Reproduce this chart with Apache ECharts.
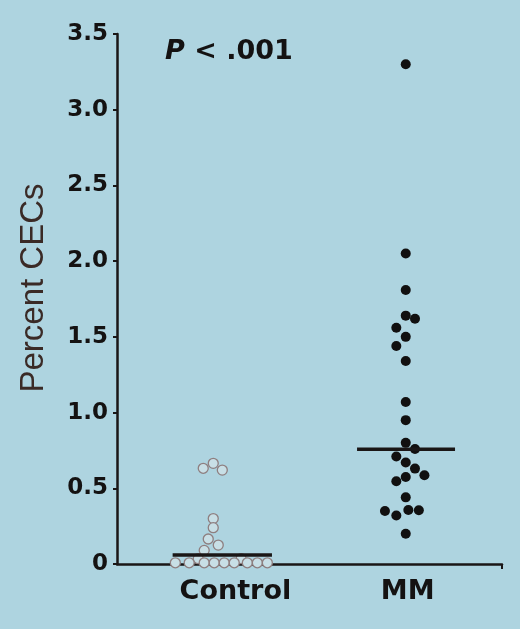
<!DOCTYPE html>
<html>
<head>
<meta charset="utf-8">
<script src="https://cdn.jsdelivr.net/npm/echarts@6/dist/echarts.min.js"></script>
<style>
html,body{margin:0;padding:0;background:#aed4e0;}
#chart{width:520px;height:629px;}
</style>
</head>
<body>
<div id="chart"></div>
<script>
// ---- data ----
const categories = ['Control', 'MM'];
const yTicks = [0, 0.5, 1.0, 1.5, 2.0, 2.5, 3.0, 3.5];
const controlValues = [0.665, 0.632, 0.62, 0.30, 0.24, 0.165, 0.125, 0.09, 0.035, 0.035,
  0.008, 0.008, 0.008, 0.008, 0.008, 0.008, 0.008, 0.008, 0.008];
const controlJitter = [0, -0.052, 0.047, 0, 0, -0.026, 0.026, -0.047, -0.078, 0.145,
  -0.197, -0.125, -0.047, 0.005, 0.057, 0.109, 0.177, 0.229, 0.281];
const mmValues = [3.30, 2.05, 1.81, 1.64, 1.62, 1.56, 1.50, 1.44, 1.34, 1.07, 0.95, 0.80,
  0.76, 0.71, 0.67, 0.63, 0.586, 0.575, 0.546, 0.44, 0.35, 0.32, 0.357, 0.355, 0.20];
const mmJitter = [0, 0, 0, 0, 0.048, -0.049, 0, -0.049, 0, 0, 0, 0,
  0.048, -0.049, 0, 0.048, 0.097, 0, -0.049, 0, -0.108, -0.049, 0.0135, 0.068, 0];
const medians = [0.06, 0.757];

// ---- chart ----
const centers = [0.5, 1.5];
const medianSpans = [[0.289, 0.805], [1.247, 1.756]];
const labelPos = [0.615, 1.51];
const FONT = 'DejaVu Sans';

const chart = echarts.init(document.getElementById('chart'));
chart.setOption({
  backgroundColor: '#aed4e0',
  animation: false,
  grid: { left: 117, right: 18, top: 34, bottom: 65 },
  xAxis: {
    type: 'value', min: 0, max: 2,
    axisLine: { show: true, lineStyle: { color: '#1a1616', width: 2.5 } },
    axisTick: { show: true, customValues: [2], length: 5, lineStyle: { color: '#1a1616', width: 2 } },
    splitLine: { show: false },
    axisLabel: {
      customValues: labelPos,
      margin: 14,
      formatter: function (v) {
        for (let i = 0; i < labelPos.length; i++) if (Math.abs(v - labelPos[i]) < 1e-6) return categories[i];
        return '';
      },
      fontFamily: FONT, fontWeight: 'bold', fontSize: 27, color: '#141212'
    }
  },
  yAxis: {
    type: 'value', min: 0, max: 3.5, interval: 0.5,
    axisLine: { show: true, lineStyle: { color: '#1a1616', width: 2.5 } },
    axisTick: { show: true, length: 4, lineStyle: { color: '#1a1616', width: 2 } },
    splitLine: { show: false },
    axisLabel: {
      margin: 9,
      formatter: function (v) { return v === 0 ? '0' : v.toFixed(1); },
      fontFamily: FONT, fontWeight: 'bold', fontSize: 23, color: '#141212'
    }
  },
  graphic: [
    {
      type: 'text', left: 165, top: 38,
      style: {
        text: '{i|P} < .001',
        rich: { i: { fontStyle: 'italic', fontWeight: 'bold', fontSize: 27, fontFamily: FONT, fill: '#141212' } },
        font: 'bold 27px "DejaVu Sans"', fill: '#141212'
      }
    },
    {
      type: 'text', x: 34, y: 288, rotation: Math.PI / 2,
      style: {
        text: 'Percent CECs', align: 'center', verticalAlign: 'middle',
        font: '33px "Liberation Sans"', fill: '#3a2a26'
      }
    }
  ],
  series: [
    {
      type: 'scatter', symbol: 'circle', symbolSize: 10, z: 2,
      itemStyle: { color: '#c8dfe6', borderColor: '#8e7f80', borderWidth: 1.3, opacity: 1 },
      data: controlValues.map((v, i) => [centers[0] + controlJitter[i], v])
    },
    {
      type: 'scatter', symbol: 'circle', symbolSize: 10, z: 2,
      itemStyle: { color: '#111010', opacity: 1 },
      data: mmValues.map((v, i) => [centers[1] + mmJitter[i], v])
    },
    {
      type: 'line', z: 3, symbol: 'none',
      lineStyle: { color: '#1a1616', width: 3.5 },
      data: [[medianSpans[0][0], medians[0]], [medianSpans[0][1], medians[0]]]
    },
    {
      type: 'line', z: 3, symbol: 'none',
      lineStyle: { color: '#1a1616', width: 3.5 },
      data: [[medianSpans[1][0], medians[1]], [medianSpans[1][1], medians[1]]]
    }
  ]
});
</script>
</body>
</html>
